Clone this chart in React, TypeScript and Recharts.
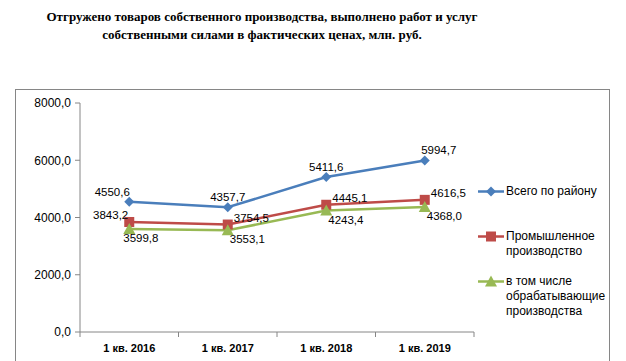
import React from "react";
import { LabelList, Legend, Line, LineChart, XAxis, YAxis } from "recharts";

const quarters = ["1 кв. 2016", "1 кв. 2017", "1 кв. 2018", "1 кв. 2019"];
const totalDistrict = [4550.6, 4357.7, 5411.6, 5994.7];
const industrial = [3843.2, 3754.5, 4445.1, 4616.5];
const manufacturing = [3599.8, 3553.1, 4243.4, 4368.0];
const yTicks = [0, 2000, 4000, 6000, 8000];

const seriesNames = {
  total: "Всего по району",
  industrial: "Промышленное производство",
  manufacturing: "в том числе обрабатывающие производства",
};

const BLUE = "#4a7ebb";
const RED = "#be4b48";
const GREEN = "#98b954";
const AXIS = "#868686";
const FONT = "'Liberation Sans', Arial, sans-serif";
const SERIF = "'Liberation Serif', 'Times New Roman', serif";

const data = quarters.map((q, i) => ({
  quarter: q,
  total: totalDistrict[i],
  industrial: industrial[i],
  manufacturing: manufacturing[i],
}));

const fmt = (v: number) => v.toFixed(1).replace(".", ",");

const Diamond = ({ cx, cy }: any) => (
  <path d={`M${cx},${cy - 5}L${cx + 5},${cy}L${cx},${cy + 5}L${cx - 5},${cy}Z`} fill={BLUE} />
);
const Square = ({ cx, cy }: any) => <rect x={cx - 5} y={cy - 5} width={10} height={10} fill={RED} />;
const Triangle = ({ cx, cy }: any) => (
  <path d={`M${cx},${cy - 6}L${cx + 6},${cy + 5}L${cx - 6},${cy + 5}Z`} fill={GREEN} />
);

const label = (kind: "total" | "industrial" | "manufacturing") => (props: any) => {
  const { x, y, value, index } = props;
  let dx = 0;
  let dy = -10;
  let anchor: "start" | "middle" | "end" = "middle";
  if (kind === "industrial") {
    anchor = index === 0 ? "end" : "start";
    dx = index === 0 ? -1 : 6;
    dy = -7;
  } else if (kind === "manufacturing") {
    anchor = "start";
    dx = index === 0 ? -6 : 2;
    dy = 9;
  } else if (index === 0) {
    dx = -17;
  } else if (index === 3) {
    dx = 14;
  }
  return (
    <text
      x={x + dx}
      y={y + dy}
      textAnchor={anchor}
      dominantBaseline="central"
      fontFamily={FONT}
      fontSize={11.5}
      fill="#000"
    >
      {fmt(value)}
    </text>
  );
};

const QuarterTick = (props: any) => {
  const { x, y, payload, index, visibleTicksCount } = props;
  const half = payload?.offset ?? 0;
  const axisY = y - 8;
  return (
    <g>
      <line x1={x - half} x2={x - half} y1={axisY} y2={axisY + 5} stroke={AXIS} />
      {index === visibleTicksCount - 1 && (
        <line x1={x + half} x2={x + half} y1={axisY} y2={axisY + 5} stroke={AXIS} />
      )}
      <text x={x} y={y + 12} textAnchor="middle" fontFamily={FONT} fontSize={11} fontWeight="bold" fill="#000">
        {payload.value}
      </text>
    </g>
  );
};

const legendMarkers: Record<string, (p: any) => React.ReactElement> = {
  [seriesNames.total]: Diamond,
  [seriesNames.industrial]: Square,
  [seriesNames.manufacturing]: Triangle,
};

const LegendBox = ({ payload }: any) => (
  <div style={{ fontFamily: FONT, fontSize: 12, color: "#000" }}>
    {(payload || []).map((item: any) => {
      const Marker = legendMarkers[item.value];
      return (
        <div key={item.value} style={{ display: "flex", alignItems: "flex-start", height: 45 }}>
          <svg width={28} height={15} style={{ flex: "none" }}>
            <line x1={0} x2={26} y1={7.5} y2={7.5} stroke={item.color} strokeWidth={2.5} />
            {Marker && <Marker cx={13} cy={7.5} />}
          </svg>
          <span style={{ width: 104, lineHeight: "15px" }}>{item.value}</span>
        </div>
      );
    })}
  </div>
);

export default function App() {
  return (
    <div style={{ position: "relative", width: 626, height: 361, background: "#fff", overflow: "hidden" }}>
      <style>{"body{margin:0}"}</style>
      <div
        style={{
          position: "absolute",
          left: 0,
          top: 8,
          width: 524,
          textAlign: "center",
          fontFamily: SERIF,
          fontWeight: "bold",
          fontSize: 13,
          lineHeight: "18px",
        }}
      >
        Отгружено товаров собственного производства, выполнено работ и услуг
        <br />
        собственными силами в фактических ценах, млн. руб.
      </div>
      <div
        style={{
          position: "absolute",
          left: 15,
          top: 89,
          width: 593,
          height: 300,
          border: `1px solid ${AXIS}`,
        }}
      />
      <div style={{ position: "absolute", left: 0, top: 0 }}>
        <LineChart width={626} height={361} data={data} margin={{ top: 103, right: 152, bottom: 0, left: 0 }}>
          <XAxis
            dataKey="quarter"
            scale="band"
            height={29}
            stroke={AXIS}
            tickLine={false}
            tickSize={5}
            tickMargin={3}
            tick={<QuarterTick />}
            interval={0}
          />
          <YAxis
            width={80}
            domain={[0, 8000]}
            ticks={yTicks}
            tickFormatter={fmt}
            stroke={AXIS}
            tickSize={5}
            tickMargin={4}
            tick={{ fill: "#000", fontFamily: FONT, fontSize: 12 }}
          />
          <Legend
            layout="vertical"
            align="center"
            verticalAlign="middle"
            content={<LegendBox />}
            wrapperStyle={{ left: 478, top: 184, width: 140, height: "auto" }}
          />
          <Line
            dataKey="total"
            name={seriesNames.total}
            stroke={BLUE}
            strokeWidth={2.5}
            dot={<Diamond />}
            activeDot={false}
            isAnimationActive={false}
          >
            <LabelList dataKey="total" content={label("total")} />
          </Line>
          <Line
            dataKey="industrial"
            name={seriesNames.industrial}
            stroke={RED}
            strokeWidth={2.5}
            dot={<Square />}
            activeDot={false}
            isAnimationActive={false}
          >
            <LabelList dataKey="industrial" content={label("industrial")} />
          </Line>
          <Line
            dataKey="manufacturing"
            name={seriesNames.manufacturing}
            stroke={GREEN}
            strokeWidth={2.5}
            dot={<Triangle />}
            activeDot={false}
            isAnimationActive={false}
          >
            <LabelList dataKey="manufacturing" content={label("manufacturing")} />
          </Line>
        </LineChart>
      </div>
    </div>
  );
}
